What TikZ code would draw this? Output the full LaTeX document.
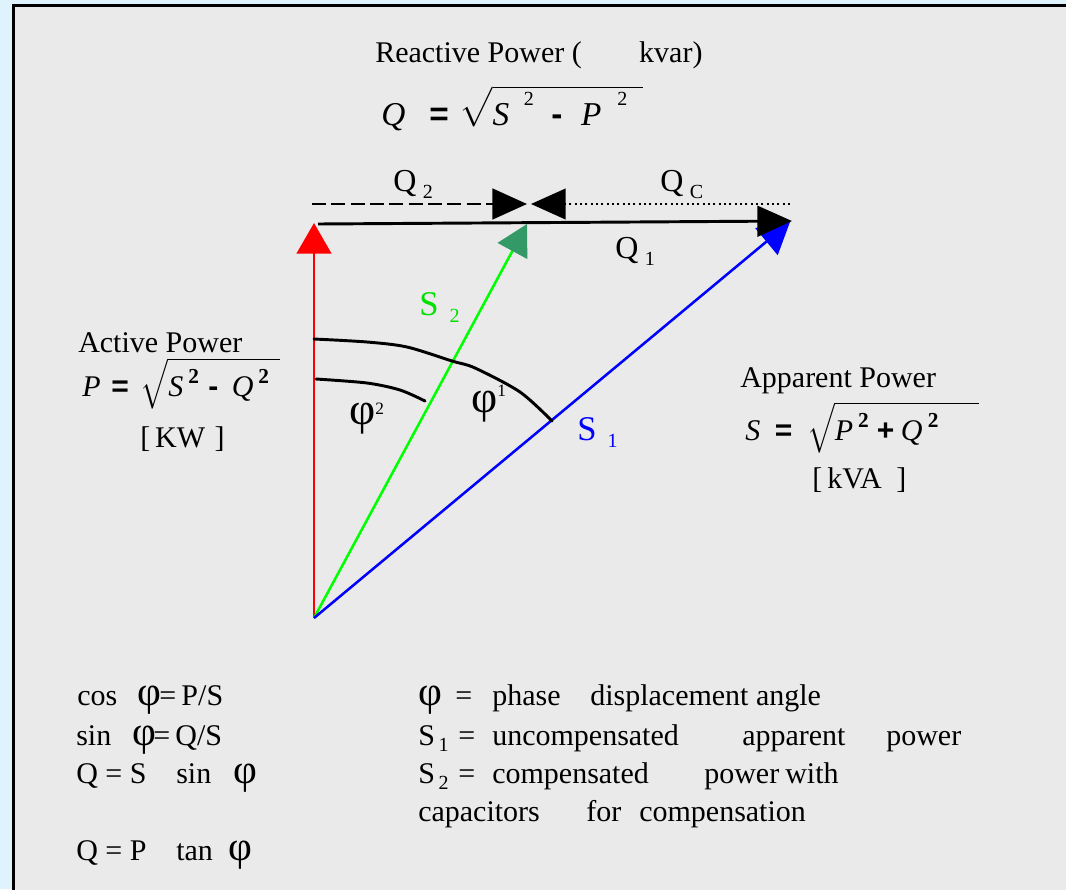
\documentclass[tikz,border=0pt]{standalone}
\usepackage{fix-cm}
\usepackage{amsmath}
\usepackage{fontspec}
\setmainfont{Liberation Serif}
\newfontfamily\pfsym{Liberation Sans}
\usetikzlibrary{arrows.meta}
\definecolor{pfOuter}{HTML}{DFF3FC}
\definecolor{pfPanel}{HTML}{EAEAEA}
\definecolor{pfRed}{HTML}{FF0000}
\definecolor{pfGreen}{HTML}{00FF00}
\definecolor{pfGreenTip}{HTML}{339966}
\definecolor{pfBlue}{HTML}{0000FF}
\definecolor{pfTagGreen}{HTML}{00E000}
\newcommand{\pfdn}[1]{\hspace{.12em}\raisebox{-.22em}{\fontsize{15}{15}\selectfont #1}}
\newcommand{\pfup}[2]{\raisebox{#1}{\fontsize{15}{15}\selectfont #2}}
\newcommand{\pfupb}[1]{\raisebox{.42em}{\fontsize{16}{16}\selectfont\bfseries #1}}
\newcommand{\pfop}[1]{{\pfsym\bfseries #1}}
\newcommand{\pfroot}[1]{$\sqrt{\mbox{#1}}$}
\newcommand{\pfphi}{{\fontsize{31}{31}\selectfont φ}}
\tikzset{
  pf text/.style={font=\fontsize{22.5}{27}\selectfont, inner sep=0pt, anchor=base west},
  pf tag/.style={font=\fontsize{24}{28}\selectfont, inner sep=0pt, anchor=base west},
  pf phasor/.style={line width=1.9pt, -{Triangle[length=23pt,width=26pt]}},
  pf reactive/.style={line width=2.2pt, -{Triangle[length=26pt,width=23pt]}},
  pf arc/.style={line width=2.2pt, line cap=round, line join=round}
}
\begin{document}
\begin{tikzpicture}[x=0.75pt,y=-0.75pt]
\clip (0,0) rectangle (1066,889);
\fill[pfOuter] (0,0) rectangle (1066,889);
\draw[line width=2.25pt, fill=pfPanel] (13.5,5.5) rectangle (1080,900);
% phasor end points
\coordinate (O) at (314,618);
\coordinate (Ptip) at (314,223);
\coordinate (S2tip) at (527,224);
\coordinate (S1tip) at (790,222);
\coordinate (Q1a) at (318,224);
\coordinate (Q1b) at (792,221);
\coordinate (Q2a) at (312,204);
\coordinate (Q2b) at (527,204);
\coordinate (QCa) at (790,204);
\coordinate (QCb) at (531,204);
\draw[pf phasor, pfRed] (O) -- (Ptip);
\draw[line width=1.9pt, pfGreen, -{Triangle[length=23pt,width=25pt,color=pfGreenTip]}] (O) -- (S2tip);
\draw[pf phasor, pfBlue] (O) -- (S1tip);
\draw[pf reactive] (Q1a) -- (Q1b);
\draw[pf reactive, dash pattern=on 10.5pt off 4pt] (Q2a) -- (Q2b);
\draw[pf reactive, line width=1.5pt, dash pattern=on 1.5pt off 2.5pt] (QCa) -- (QCb);
% angle arcs
\draw[pf arc] plot[smooth, tension=0.5] coordinates {(314,339) (367,342) (407,347) (452,361) (475,368) (520,392) (552,421)};
\draw[pf arc] plot[smooth, tension=0.5] coordinates {(316,379) (367,383) (400,390) (425,401)};
\node[pf tag] (phi2) at (349,424) {{\fontsize{34}{34}\selectfont φ}\raisebox{.3em}{\fontsize{13}{13}\selectfont 2}};
\node[pf tag] (phi1) at (471,412) {{\fontsize{34}{34}\selectfont φ}\raisebox{.5em}{\fontsize{13}{13}\selectfont 1}};
% vector labels
\node[pf tag, pfTagGreen, font=\fontsize{26}{30}\selectfont] (s2lbl) at (419,315) {S\hspace{.2em}\pfdn{2}};
\node[pf tag, pfBlue, font=\fontsize{26}{30}\selectfont] (s1lbl) at (577,440) {S\hspace{.2em}\pfdn{1}};
\node[pf tag] (q2lbl) at (393,191) {Q\hspace{2pt}\pfdn{2}};
\node[pf tag] (qclbl) at (660,191) {Q\hspace{2pt}\pfdn{C}};
\node[pf tag] (q1lbl) at (615,258) {Q\hspace{2pt}\pfdn{1}};
% quantities
\node[pf text] (reactive) at (375,62) {Reactive Power (\hspace{43pt}kvar)};
\node[pf text, font=\fontsize{25}{30}\selectfont] (qformula) at (381,125) {\textit{Q}\hspace{18pt}\pfop{=}\hspace{8pt}\pfroot{\rule{0pt}{25pt}\textit{S}\hspace{11pt}\pfup{15pt}{2}\hspace{13pt}\pfop{-}\hspace{14pt}\textit{P}\hspace{12pt}\pfup{15pt}{2}\hspace{12pt}}};
\node[pf text] (active) at (78,352) {Active Power};
\node[pf text] (pformula) at (82,396) {\textit{P}\hspace{8pt}\pfop{=}\hspace{9pt}\pfroot{\textit{S}\,\pfupb{2}\hspace{7pt}\pfop{-}\hspace{10pt}\textit{Q}\,\pfupb{2}\hspace{8pt}}};
\node[pf text] (punit) at (140,447) {[\,KW\hspace{7pt}]};
\node[pf text] (apparent) at (740,387) {Apparent Power};
\node[pf text] (sformula) at (745,440) {\textit{S}\hspace{11pt}\pfop{=}\hspace{11pt}\pfroot{\textit{P}\,\pfupb{2}\hspace{6pt}\pfop{+}\hspace{5pt}\textit{Q}\hspace{4pt}\pfupb{2}\hspace{30pt}}};
\node[pf text] (sunit) at (812,488) {[\,kVA\hspace{11pt}]};
% notes
\foreach \x/\y/\t [count=\k] in {77/705/{cos}, 137/705/{\pfphi}, 159/705/{=\hspace{4pt}P/S},
  76/745/{sin}, 132/745/{\pfphi}, 153/745/{=\hspace{4pt}Q/S},
  76/783/{Q = S}, 176/783/{sin}, 233/783/{\pfphi},
  76/860/{Q = P}, 176/860/{tan}, 228/860/{\pfphi},
  418/705/{\pfphi}, 455/705/{=}, 492/705/{phase}, 590/705/{displacement angle},
  418/745/{S\pfdn{1}}, 458/745/{=}, 492/745/{uncompensated}, 742/745/{apparent}, 886/745/{power},
  418/783/{S\pfdn{2}}, 458/783/{=}, 492/783/{compensated}, 704/783/{power}, 785/783/{with},
  418/821/{capacitors}, 586/821/{for}, 639/821/{compensation}}
  \node[pf text] (note\k) at (\x,\y) {\t};
\end{tikzpicture}
\end{document}
